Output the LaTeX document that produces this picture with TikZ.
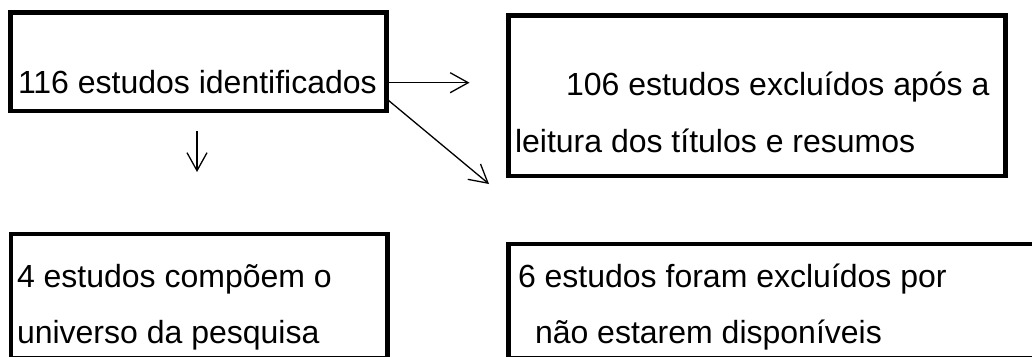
\documentclass[tikz,border=0pt]{standalone}
\usepackage{fontspec}
\setmainfont{Liberation Sans}
\usetikzlibrary{arrows.meta}
\tikzset{
  box/.style={draw=black, line width=4.6pt, rectangle, inner sep=0pt, outer sep=0pt},
  txt/.style={anchor=base west, inner sep=0pt, outer sep=0pt, font=\fontsize{32}{38}\selectfont},
  arr/.style={line width=1.3pt, -{Straight Barb[length=18pt,width=20pt,line width=1.3pt]}}
}
\begin{document}
\begin{tikzpicture}[x=1pt,y=-1pt]
\useasboundingbox (0,0) rectangle (1032,356);
\clip (0,0) rectangle (1032,356);
\fill[white] (0,0) rectangle (1032,356);
% boxes
\node[box, minimum width=376pt, minimum height=98.5pt] (b1) at (198.5,61.75) {};
\node[box, minimum width=497pt, minimum height=160.6pt] (b2) at (757,95.7) {};
\node[box, minimum width=376.5pt, minimum height=124pt] (b3) at (199.25,296) {};
\node[box, minimum width=531.5pt, minimum height=114pt] (b4) at (774.25,301) {};
% texts
\node[txt] (t1) at (18,93) {116 estudos identificados};
\node[txt] (t2a) at (566,95.5) {106 estudos excluídos após a};
\node[txt] (t2b) at (515,152) {leitura dos títulos e resumos};
\node[txt] (t3a) at (17,287) {4 estudos compõem o};
\node[txt] (t3b) at (17,343) {universo da pesquisa};
\node[txt] (t4a) at (518,287) {6 estudos foram excluídos por};
\node[txt] (t4b) at (535,343) {não estarem disponíveis};
% connector ends
\coordinate (r1) at (469.5,82.7);
\coordinate (d1) at (489,184);
\coordinate (v0) at (197,131);
\coordinate (v1) at (197,172);
% connectors
\draw[arr] (b1.east |- r1) -- (r1);
\draw[arr] ([yshift=-37pt]b1.east) -- (d1);
\draw[arr] (v0) -- (v1);
\end{tikzpicture}
\end{document}
